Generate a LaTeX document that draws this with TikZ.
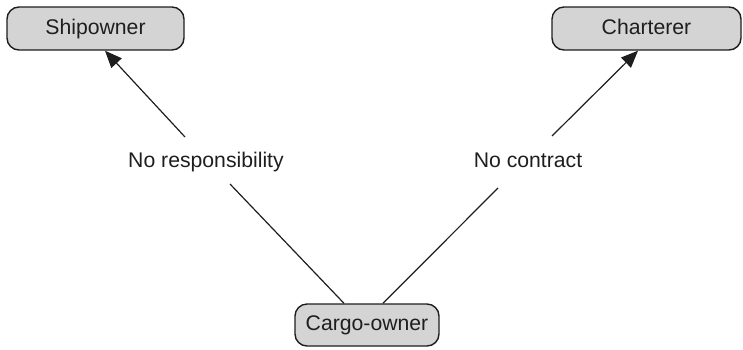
\documentclass[tikz,border=0pt]{standalone}
\usepackage{fontspec}
\setmainfont{Liberation Sans}
\usetikzlibrary{arrows.meta}
\definecolor{boxfill}{HTML}{D4D4D4}
\definecolor{ink}{HTML}{1E1E1E}
\begin{document}
\begin{tikzpicture}[x=0.5pt,y=-0.5pt,
  party/.style={draw=ink, line width=0.7pt, fill=boxfill, rounded corners=6pt,
    minimum height=21.5pt, inner sep=0pt, text height=7.8pt, text depth=2.2pt,
    text=ink, font=\fontsize{10.6}{12}\selectfont},
  lbl/.style={inner sep=0pt, text height=7.8pt, text depth=2.2pt, text=ink, font=\fontsize{10.6}{12}\selectfont},
  conn/.style={draw=ink, line width=0.6pt},
  arr/.style={conn, -{Triangle[length=8.5pt,width=7pt]}}]
\useasboundingbox (0,0) rectangle (743,349);
\node[party, minimum width=88.5pt] (ship) at (95.5,28.5) {Shipowner};
\node[party, minimum width=94.5pt] (chart) at (646.5,28.5) {Charterer};
\node[party, minimum width=72pt, minimum height=21pt] (cargo) at (367,325) {Cargo-owner};
\node[lbl] (noresp) at (206,162) {No responsibility};
\node[lbl] (nocon) at (528,162) {No contract};
\coordinate (l1) at (185,137);
\coordinate (l2) at (230,184);
\coordinate (r1) at (552,136);
\coordinate (r2) at (498,188);
\coordinate (tl) at (105,0);
\coordinate (tr) at (638,0);
\coordinate (bl) at (344,0);
\coordinate (br) at (383,0);
\draw[arr] (l1) -- (ship.south -| tl);
\draw[arr] (r1) -- (chart.south -| tr);
\draw[conn] (l2) -- (cargo.north -| bl);
\draw[conn] (r2) -- (cargo.north -| br);
\end{tikzpicture}
\end{document}
